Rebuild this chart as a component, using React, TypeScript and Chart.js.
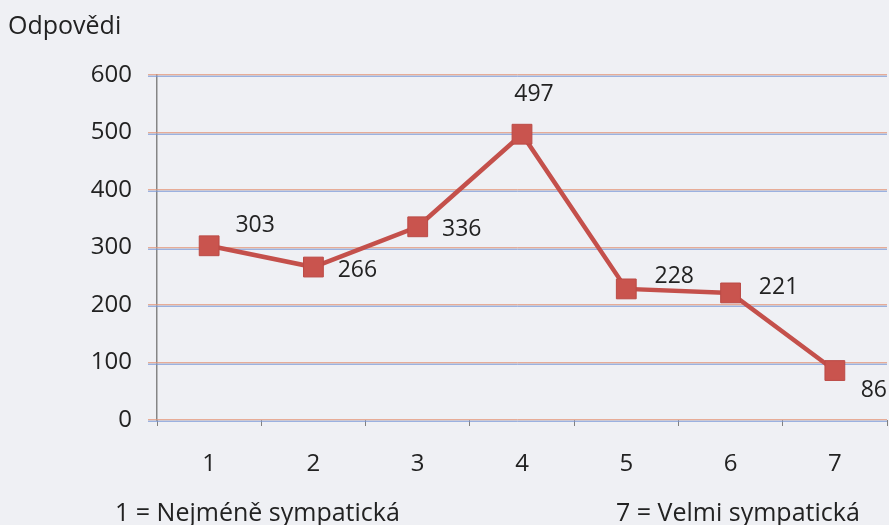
import React, { useEffect, useRef } from "react";
import { Chart, registerables } from "chart.js";

Chart.register(...registerables);

const categories = ["1", "2", "3", "4", "5", "6", "7"];
const responses = [303, 266, 336, 497, 228, 221, 86];
const yAxisTitle = "Odpovědi";
const leftNote = "1 = Nejméně sympatická";
const rightNote = "7 = Velmi sympatická";

const FONT = "'Open Sans', 'Noto Sans', sans-serif";
const LINE_COLOR = "#c4504b";
const BG = "#eff0f4";
const TEXT = "#222222";

// label offsets relative to each point (dx, dy) in px
const labelOffsets: [number, number][] = [
  [46, -20],
  [44, 3],
  [44, 3],
  [12, -40],
  [48, -12],
  [48, -5],
  [39, 20],
];

const decorPlugin = {
  id: "decor",
  beforeDraw(chart: any) {
    const { ctx, width, height } = chart;
    ctx.save();
    ctx.fillStyle = BG;
    ctx.fillRect(0, 0, width, height);
    ctx.restore();
  },
  beforeDatasetsDraw(chart: any) {
    const { ctx, chartArea, scales } = chart;
    const y = scales.y;
    ctx.save();
    ctx.lineWidth = 1;
    y.ticks.forEach((t: any) => {
      const r = Math.round(y.getPixelForValue(t.value));
      const rows: [number, string][] = [
        [r - 1, "rgba(228,150,120,0.75)"],
        [r, "rgba(175,170,185,0.55)"],
        [r + 1, "rgba(120,150,215,0.7)"],
      ];
      rows.forEach(([py, c]) => {
        ctx.strokeStyle = c;
        ctx.beginPath();
        ctx.moveTo(chartArea.left - 9, py + 0.5);
        ctx.lineTo(chartArea.right, py + 0.5);
        ctx.stroke();
      });
    });
    ctx.restore();
  },
  afterDatasetsDraw(chart: any) {
    const { ctx } = chart;
    const meta = chart.getDatasetMeta(0);
    ctx.save();
    ctx.fillStyle = TEXT;
    ctx.font = `23px ${FONT}`;
    ctx.textAlign = "center";
    ctx.textBaseline = "middle";
    meta.data.forEach((pt: any, i: number) => {
      const [dx, dy] = labelOffsets[i];
      ctx.fillText(String(responses[i]), pt.x + dx, pt.y + dy);
    });
    ctx.textAlign = "left";
    ctx.textBaseline = "alphabetic";
    ctx.font = `25px ${FONT}`;
    ctx.fillText(yAxisTitle, 8, 34);
    ctx.fillText(leftNote, 115, 521);
    ctx.fillText(rightNote, 616, 521);
    ctx.restore();
  },
};

export default function App() {
  const ref = useRef<HTMLCanvasElement>(null);
  useEffect(() => {
    const canvas = ref.current!;
    const chart = new Chart(canvas, {
      type: "line",
      data: {
        labels: categories,
        datasets: [
          {
            data: responses,
            borderColor: LINE_COLOR,
            backgroundColor: LINE_COLOR,
            borderWidth: 4.5,
            pointStyle: "rect",
            pointRadius: 14,
            pointHoverRadius: 14,
            pointBackgroundColor: "#c9544e",
            pointBorderColor: "#bb4a45",
            pointBorderWidth: 1,
            tension: 0,
          },
        ],
      },
      options: {
        animation: false,
        responsive: false,
        maintainAspectRatio: false,
        layout: { autoPadding: false, padding: { left: 0, top: 75, right: 2, bottom: 35 } },
        plugins: {
          legend: { display: false },
          tooltip: { enabled: false },
          title: { display: false },
        },
        scales: {
          x: {
            type: "category",
            offset: true,
            grid: {
              offset: true,
              drawOnChartArea: false,
              drawTicks: true,
              tickLength: 6,
              color: "#808080",
            },
            border: { display: false },
            ticks: {
              color: TEXT,
              font: { family: FONT, size: 24 },
              padding: 24,
              maxRotation: 0,
            },
            afterFit: (s: any) => {
              s.height = 70;
              s.paddingLeft = 0;
              s.paddingRight = 0;
            },
          },
          y: {
            min: 0,
            max: 600,
            ticks: {
              stepSize: 100,
              color: TEXT,
              font: { family: FONT, size: 24 },
              padding: 25,
            },
            grid: {
              drawOnChartArea: false,
              drawTicks: false,
            },
            border: { display: true, color: "#858585", width: 1.5 },
            afterFit: (s: any) => {
              s.width = 157;
            },
          },
        },
      },
      plugins: [decorPlugin],
    });
    return () => chart.destroy();
  }, []);
  return (
    <div style={{ position: "fixed", left: 0, top: 0, width: 889, height: 525 }}>
      <canvas ref={ref} width={889} height={525} style={{ display: "block" }} />
    </div>
  );
}
